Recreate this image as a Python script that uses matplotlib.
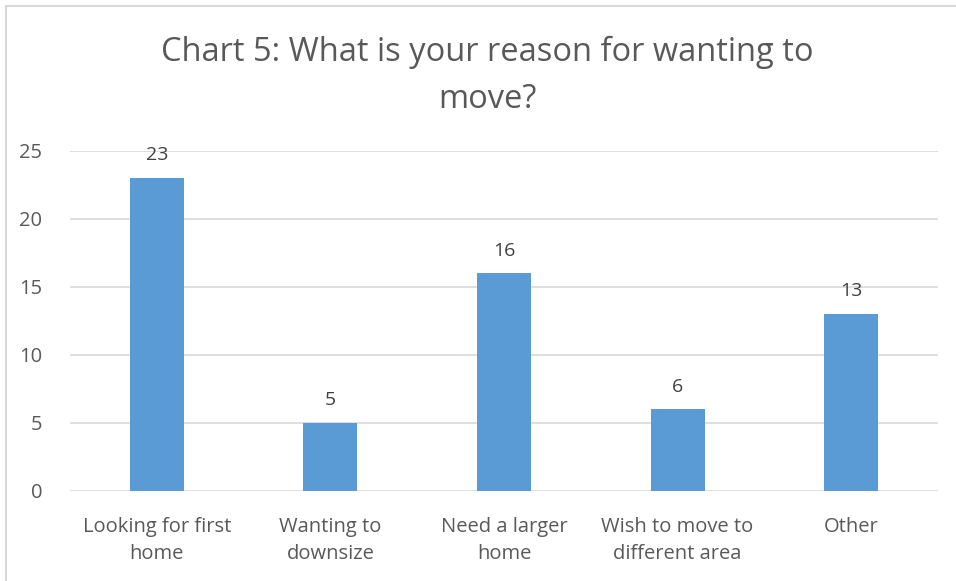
import matplotlib
matplotlib.use("Agg")
import matplotlib.pyplot as plt
from matplotlib.lines import Line2D

categories = ["Looking for first\nhome", "Wanting to\ndownsize", "Need a larger\nhome",
              "Wish to move to\ndifferent area", "Other"]
values = [23, 5, 16, 6, 13]
yticks = [0, 5, 10, 15, 20, 25]
title = "Chart 5: What is your reason for wanting to\nmove?"

plt.rcParams['font.family'] = ['Open Sans', 'DejaVu Sans']
txt = "#595959"

fig = plt.figure(figsize=(9.56, 5.81), dpi=100)
ax = fig.add_axes([70/956, 1-491/581, (938-70)/956, (491-151)/581])

x = list(range(len(categories)))
bars = ax.bar(x, values, width=0.31, color="#5B9BD5", zorder=3)
for xi, v in zip(x, values):
    ax.annotate(str(v), (xi, v), xytext=(0, 10), textcoords="offset points",
                ha="center", va="bottom", fontsize=14, color="#404040")

ax.set_xlim(-0.5, len(categories) - 0.5)
ax.set_ylim(0, 25)
ax.set_yticks(yticks)
ax.set_yticklabels([str(t) for t in yticks], fontsize=14.5, color=txt)
ax.set_xticks(x)
ax.set_xticklabels(categories, fontsize=14.5, color=txt, linespacing=1.45)
ax.tick_params(axis='both', length=0)
ax.tick_params(axis='y', pad=20)
ax.tick_params(axis='x', pad=19)
ax.grid(axis='y', color="#D9D9D9", linewidth=1.2, zorder=0)
for s in ax.spines.values():
    s.set_visible(False)

fig.text(487/956, 1-76/581, title, ha="center", va="center", fontsize=23.5,
         color=txt, linespacing=1.55)

# chart-area border (left and top visible)
fig.add_artist(Line2D([6/956, 6/956], [0, 1-6/581], transform=fig.transFigure,
                      color="#D9D9D9", linewidth=1.5))
fig.add_artist(Line2D([6/956, 1], [1-6/581, 1-6/581], transform=fig.transFigure,
                      color="#D9D9D9", linewidth=1.5))

fig.savefig("out.png", dpi=100)
